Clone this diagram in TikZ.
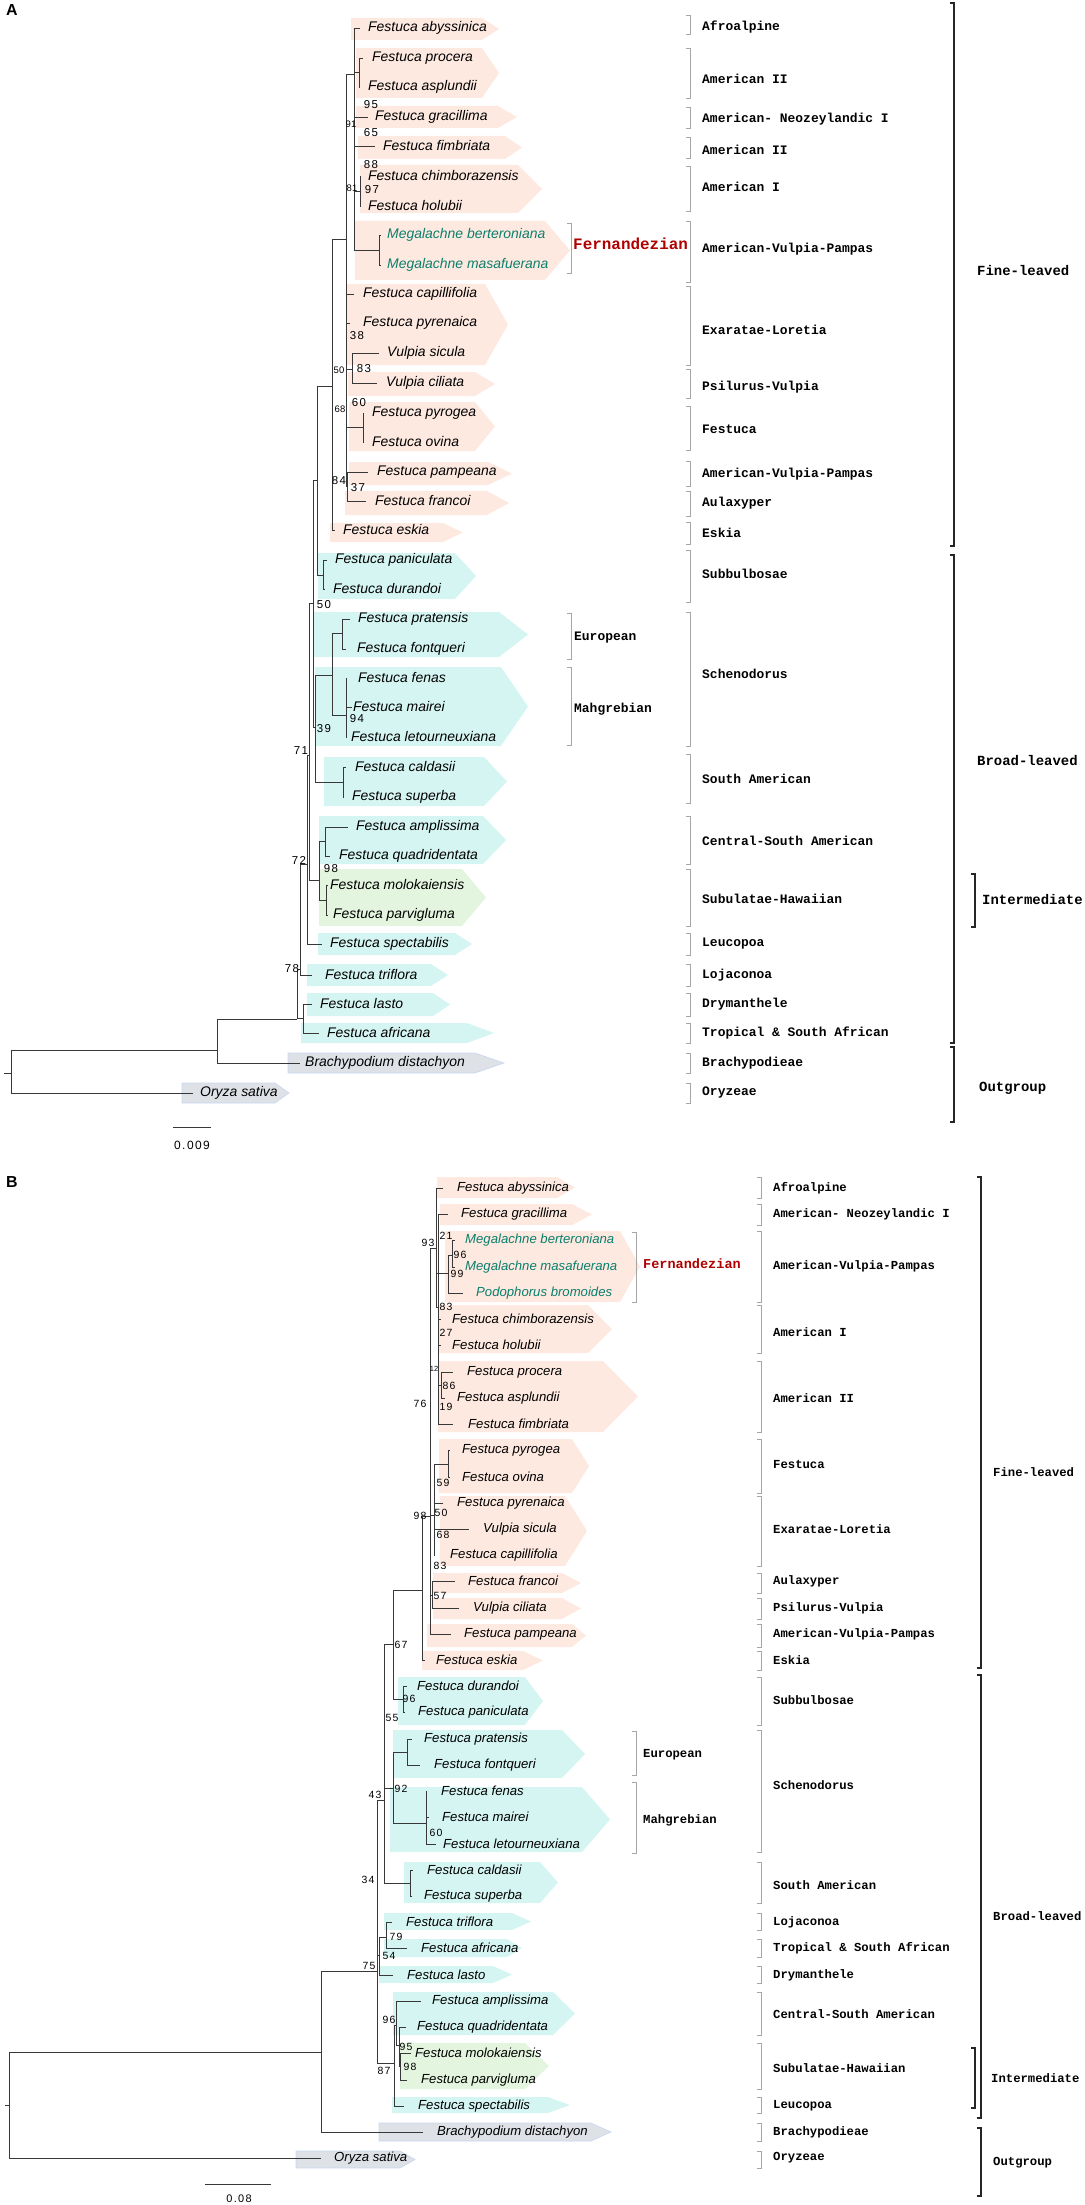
\documentclass[tikz,border=0pt]{standalone}
\usepackage{fontspec}
\setmainfont{Liberation Sans}
\newfontfamily\spfont{Liberation Sans}
\newfontfamily\lbfont{Liberation Mono}
\newfontfamily\bsfont[LetterSpace=12]{Liberation Sans}
\definecolor{peach}{HTML}{FDE9E0}
\definecolor{cyanb}{HTML}{D5F5F2}
\definecolor{greenb}{HTML}{E4F5DF}
\definecolor{greyb}{HTML}{DEE1E6}
\definecolor{greyedge}{HTML}{C8D6F2}
\definecolor{megal}{HTML}{0B7F6C}
\definecolor{fernred}{HTML}{B00000}
\tikzset{
  br/.style={draw=black!78, line width=0.9bp},
  spA/.style={anchor=west, inner sep=0pt, font={\spfont\itshape\fontsize{14}{16}\selectfont}},
  spB/.style={anchor=west, inner sep=0pt, font={\spfont\itshape\fontsize{13.2}{15}\selectfont}},
  bsA/.style={inner sep=0pt, font={\bsfont\fontsize{11.5}{13}\selectfont}},
  bsAs/.style={inner sep=0pt, font={\spfont\fontsize{9.5}{11}\selectfont}},
  bsB/.style={inner sep=0pt, font={\bsfont\fontsize{10.5}{12}\selectfont}},
  bsBs/.style={inner sep=0pt, font={\spfont\fontsize{7.5}{9}\selectfont}},
  labA/.style={anchor=west, inner sep=0pt, font={\lbfont\bfseries\fontsize{13}{15}\selectfont}},
  labB/.style={anchor=west, inner sep=0pt, font={\lbfont\bfseries\fontsize{12.3}{14}\selectfont}},
  bigA/.style={anchor=west, inner sep=0pt, font={\lbfont\bfseries\fontsize{14}{16}\selectfont}},
  bigB/.style={anchor=west, inner sep=0pt, font={\lbfont\bfseries\fontsize{12.3}{15}\selectfont}},
  fernA/.style={anchor=west, inner sep=0pt, text=fernred, font={\lbfont\bfseries\fontsize{16}{18}\selectfont}},
  fernB/.style={anchor=west, inner sep=0pt, text=fernred, font={\lbfont\bfseries\fontsize{13.6}{16}\selectfont}},
  sbr/.style={draw=black!35, line width=0.8bp},
  bbr/.style={draw=black!85, line width=1.3bp},
  outgrey/.style={fill=greyb, draw=greyedge, line width=0.6bp},
}
\newcommand\abox[6]{\path[#1] (#2,#3) -- (#5,#3) -- (#6,{(#3+#4)/2}) -- (#5,#4) -- (#2,#4) -- cycle;}
\newcommand\leafA[6][]{\coordinate (#2) at (#5,#4); \node[spA,#1] (#2t) at (#3,#4) {#6};}
\newcommand\leafB[6][]{\coordinate (#2) at (#5,#4); \node[spB,#1] (#2t) at (#3,#4) {#6};}
\newcommand\tn[3]{\coordinate (#1) at (#2,#3);}
\newcommand\edges[2]{\foreach \c in {#2} {\draw[br] (#1) |- (\c);}}
\newcommand\sbracket[5]{\coordinate (#1a) at ({#2-4},#3); \coordinate (#1b) at ({#2-4},#4); \draw[#5] (#1a) -- +(4,0) |- (#1b);}
\begin{document}
\begin{tikzpicture}[x=1bp,y=-1bp]
\useasboundingbox (0,0) rectangle (1084,2205);
\node[anchor=north west, inner sep=0pt, font={\bfseries\fontsize{16}{18}\selectfont}] (PA) at (6,4) {A};
\node[anchor=north west, inner sep=0pt, font={\bfseries\fontsize{16}{18}\selectfont}] (PB) at (6,1176) {B};

% ================= PANEL A boxes =================
\abox{fill=peach}{351}{18}{40}{482}{499}
\abox{fill=peach}{356}{48}{98}{482}{499}
\abox{fill=peach}{356}{106}{128}{498}{517}
\abox{fill=peach}{358}{136}{159}{505}{522}
\abox{fill=peach}{360}{165}{213}{518}{542}
\abox{fill=peach}{355}{221}{280}{545}{570}
\abox{fill=peach}{347}{284}{365}{485}{508}
\abox{fill=peach}{348}{372}{396}{475}{495}
\abox{fill=peach}{349}{402}{451}{475}{495}
\abox{fill=peach}{349}{462}{485}{488}{512}
\abox{fill=peach}{345}{491}{515}{487}{509}
\abox{fill=peach}{330}{523}{542}{443}{463}
\abox{fill=cyanb}{318}{553}{599}{455}{476}
\abox{fill=cyanb}{314}{612}{657}{499}{528}
\abox{fill=cyanb}{315}{667}{746}{501}{528}
\abox{fill=cyanb}{324}{757}{806}{484}{507}
\abox{fill=cyanb}{319}{816}{864}{483}{506}
\abox{fill=greenb}{319}{869}{926}{462}{486}
\abox{fill=cyanb}{318}{933}{955}{455}{472}
\abox{fill=cyanb}{307}{964}{986}{431}{448}
\abox{fill=cyanb}{307}{993}{1016}{433}{450}
\abox{fill=cyanb}{301}{1023}{1043}{467}{494}
\abox{outgrey}{288}{1053}{1073}{475}{504}
\abox{outgrey}{182}{1083}{1103}{275}{289}

% ================= PANEL A leaves =================
\leafA{a1}{368}{28}{360}{Festuca abyssinica}
\leafA{a2}{372}{58}{363}{Festuca procera}
\leafA{a3}{368}{87}{360}{Festuca asplundii}
\leafA{a4}{375}{117}{368}{Festuca gracillima}
\leafA{a5}{383}{146}{375}{Festuca fimbriata}
\leafA{a6}{368}{176}{361}{Festuca chimborazensis}
\leafA{a7}{368}{206}{361}{Festuca holubii}
\leafA[text=megal]{a8}{387}{235}{381}{Megalachne berteroniana}
\leafA[text=megal]{a9}{387}{265}{381}{Megalachne masafuerana}
\leafA{a10}{363}{294}{354}{Festuca capillifolia}
\leafA{a11}{363}{323}{350}{Festuca pyrenaica}
\leafA{a12}{387}{353}{379}{Vulpia sicula}
\leafA{a13}{386}{383}{377}{Vulpia ciliata}
\leafA{a14}{372}{413}{364}{Festuca pyrogea}
\leafA{a15}{372}{442}{364}{Festuca ovina}
\leafA{a16}{377}{472}{368}{Festuca pampeana}
\leafA{a17}{375}{501}{366}{Festuca francoi}
\leafA{a18}{343}{530}{335}{Festuca eskia}
\leafA{a19}{335}{560}{327}{Festuca paniculata}
\leafA{a20}{333}{589}{325}{Festuca durandoi}
\leafA{a21}{358}{619}{350}{Festuca pratensis}
\leafA{a22}{357}{649}{346}{Festuca fontqueri}
\leafA{a23}{358}{678}{347}{Festuca fenas}
\leafA{a24}{353}{707}{352}{Festuca mairei}
\leafA{a25}{351}{737}{347}{Festuca letourneuxiana}
\leafA{a26}{355}{767}{346}{Festuca caldasii}
\leafA{a27}{352}{797}{344}{Festuca superba}
\leafA{a28}{356}{827}{348}{Festuca amplissima}
\leafA{a29}{339}{856}{330}{Festuca quadridentata}
\leafA{a30}{330}{885}{328}{Festuca molokaiensis}
\leafA{a31}{333}{915}{328}{Festuca parvigluma}
\leafA{a32}{330}{944}{322}{Festuca spectabilis}
\leafA{a33}{325}{975}{312}{Festuca triflora}
\leafA{a34}{320}{1004}{312}{Festuca lasto}
\leafA{a35}{327}{1033}{319}{Festuca africana}
\leafA{a36}{305}{1063}{300}{Brachypodium distachyon}
\leafA{a37}{200}{1093}{193}{Oryza sativa}

% ================= PANEL A tree =================
\tn{A0s}{4}{1073}\tn{A0}{11}{1073}\tn{A1}{217}{1050}
\tn{AIng}{297}{1019}\tn{A78}{300}{969}\tn{ALA}{303}{1018}
\tn{A72}{307}{864}\tn{A71}{309}{755}\tn{A98}{319}{880}
\tn{Aaq}{325}{841}\tn{Ahaw}{326}{900}
\tn{A50}{313}{603}\tn{A317}{317}{480}\tn{ASub}{323}{575}
\tn{A39}{315}{727}\tn{ASch}{332}{675}\tn{AEur}{342}{633}\tn{AMah}{346}{715}\tn{ASAm}{343}{782}
\tn{A332}{332}{386}\tn{A346}{346}{239}\tn{A352}{352}{369}\tn{A349}{349}{427}\tn{A363}{363}{427}\tn{A347}{347}{486}
\tn{A354}{354}{74}\tn{A359}{359}{72}\tn{A360}{360}{191}\tn{AMeg}{379}{250}
\draw[br] (A0s) -- (A0);
\edges{A0}{A1,a37}
\edges{A1}{AIng,a36}
\edges{AIng}{A78,ALA}
\edges{A78}{A72,a33}
\edges{ALA}{a34,a35}
\edges{A72}{A71,a32}
\edges{A71}{A50,A98}
\edges{A98}{Aaq,Ahaw}
\edges{Aaq}{a28,a29}
\edges{Ahaw}{a30,a31}
\edges{A50}{A317,A39}
\edges{A317}{A332,ASub}
\edges{ASub}{a19,a20}
\edges{A39}{ASch,ASAm}
\edges{ASch}{AEur,AMah}
\edges{AEur}{a21,a22}
\edges{AMah}{a23,a24,a25}
\edges{ASAm}{a26,a27}
\edges{A332}{A346,a18}
\edges{A346}{A354,a10,a11,A352,A349,A347}
\edges{A352}{a12,a13}
\edges{A349}{A363}
\edges{A363}{a14,a15}
\edges{A347}{a16,a17}
\edges{A354}{a1,A359,a4,a5,A360,AMeg}
\edges{A359}{a2,a3}
\edges{A360}{a6,a7}
\edges{AMeg}{a8,a9}

% bootstrap A
\node[bsAs] (ba1) at (351,124) {91};
\node[bsA] (ba2) at (371,105) {95};
\node[bsA] (ba3) at (371,133) {65};
\node[bsA] (ba4) at (371,165) {88};
\node[bsAs] (ba5) at (352,188) {81};
\node[bsA] (ba6) at (372,190) {97};
\node[bsA] (ba7) at (357,336) {38};
\node[bsA] (ba8) at (364,369) {83};
\node[bsAs] (ba9) at (339,370) {50};
\node[bsA] (ba10) at (359,403) {60};
\node[bsAs] (ba11) at (340,409) {68};
\node[bsA] (ba12) at (339,481) {84};
\node[bsA] (ba13) at (358,488) {37};
\node[bsA] (ba14) at (324,605) {50};
\node[bsA] (ba15) at (357,719) {94};
\node[bsA] (ba16) at (324,729) {39};
\node[bsA] (ba17) at (301,751) {71};
\node[bsA] (ba18) at (299,860) {72};
\node[bsA] (ba19) at (331,869) {98};
\node[bsA] (ba20) at (292,969) {78};

% scale A
\coordinate (sa1) at (173,1127); \coordinate (sa2) at (211,1127);
\draw[br] (sa1) -- (sa2);
\node[inner sep=0pt, font={\bsfont\fontsize{12}{14}\selectfont}] (sat) at (192,1145) {0.009};

% label brackets A
\foreach \yt/\yb/\yl/\tx [count=\i] in {15/34/27/Afroalpine, 48/98/79/American II, 107/128/119/American- Neozeylandic I, 137/158/150/American II, 166/211/187/American I, 221/282/249/American-Vulpia-Pampas, 286/365/330/Exaratae-Loretia, 369/398/387/Psilurus-Vulpia, 406/450/429/Festuca, 461/486/474/American-Vulpia-Pampas, 491/516/503/Aulaxyper, 522/544/533/Eskia, 550/602/574/Subbulbosae, 612/746/674/Schenodorus, 754/803/779/South American, 816/864/841/Central-South American, 869/926/899/Subulatae-Hawaiian, 933/955/944/Leucopoa, 964/986/975/Lojaconoa, 993/1016/1004/Drymanthele, 1023/1043/1033/Tropical \& South African, 1053/1073/1063/Brachypodieae, 1083/1103/1093/Oryzeae} {
  \sbracket{lbA\i}{690}{\yt}{\yb}{sbr}
  \node[labA] (labA\i) at (702,\yl) {\tx};
}
\sbracket{fA}{571}{223}{273}{sbr}
\node[fernA] (fernAt) at (573,244) {Fernandezian};
\sbracket{eA}{571}{613}{659}{sbr}
\node[labA] (eurA) at (574,638) {European};
\sbracket{mA}{571}{667}{745}{sbr}
\node[labA] (mahA) at (574,709) {Mahgrebian};
\sbracket{FLA}{954}{3}{546}{bbr}
\node[bigA] (flA) at (977,271) {Fine-leaved};
\sbracket{BLA}{954}{555}{1043}{bbr}
\node[bigA] (blA) at (977,761) {Broad-leaved};
\sbracket{INA}{975}{874}{927}{bbr}
\node[bigA] (inA) at (982,900) {Intermediate};
\sbracket{OGA}{954}{1047}{1122}{bbr}
\node[bigA] (ogA) at (979,1088) {Outgroup};

% ================= PANEL B boxes =================
\abox{fill=peach}{437}{1177}{1198}{557}{575}
\abox{fill=peach}{440}{1204}{1225}{572}{592}
\abox{fill=peach}{445}{1231}{1302}{620}{640}
\abox{fill=peach}{438}{1305}{1353}{588}{612}
\abox{fill=peach}{438}{1361}{1432}{603}{638}
\abox{fill=peach}{439}{1439}{1493}{572}{589}
\abox{fill=peach}{440}{1496}{1566}{565}{587}
\abox{fill=peach}{433}{1573}{1593}{562}{581}
\abox{fill=peach}{433}{1598}{1619}{562}{581}
\abox{fill=peach}{427}{1624}{1647}{572}{586}
\abox{fill=peach}{422}{1651}{1670}{523}{543}
\abox{fill=cyanb}{398}{1677}{1725}{525}{543}
\abox{fill=cyanb}{393}{1730}{1778}{562}{585}
\abox{fill=cyanb}{390}{1787}{1852}{582}{610}
\abox{fill=cyanb}{404}{1862}{1903}{540}{558}
\abox{fill=cyanb}{384}{1913}{1930}{512}{531}
\abox{fill=cyanb}{384}{1939}{1957}{507}{522}
\abox{fill=cyanb}{379}{1966}{1983}{493}{512}
\abox{fill=cyanb}{393}{1992}{2035}{553}{575}
\abox{fill=greenb}{400}{2043}{2089}{525}{549}
\abox{fill=cyanb}{392}{2097}{2113}{548}{570}
\abox{outgrey}{379}{2123}{2141}{591}{611}
\abox{outgrey}{296}{2151}{2168}{400}{415}

% ================= PANEL B leaves =================
\leafB{b1}{457}{1188}{443}{Festuca abyssinica}
\leafB{b2}{461}{1214}{448}{Festuca gracillima}
\leafB[text=megal]{b3}{465}{1240}{455}{Megalachne berteroniana}
\leafB[text=megal]{b4}{465}{1267}{455}{Megalachne masafuerana}
\leafB[text=megal]{b5}{476}{1293}{463}{Podophorus bromoides}
\leafB{b6}{452}{1319}{441}{Festuca chimborazensis}
\leafB{b7}{452}{1345}{441}{Festuca holubii}
\leafB{b8}{467}{1372}{453}{Festuca procera}
\leafB{b9}{457}{1398}{445}{Festuca asplundii}
\leafB{b10}{468}{1424}{453}{Festuca fimbriata}
\leafB{b11}{462}{1450}{450}{Festuca pyrogea}
\leafB{b12}{462}{1477}{450}{Festuca ovina}
\leafB{b13}{457}{1503}{443}{Festuca pyrenaica}
\leafB{b14}{483}{1529}{469}{Vulpia sicula}
\leafB{b15}{450}{1555}{435}{Festuca capillifolia}
\leafB{b16}{468}{1581}{455}{Festuca francoi}
\leafB{b17}{473}{1608}{459}{Vulpia ciliata}
\leafB{b18}{464}{1634}{451}{Festuca pampeana}
\leafB{b19}{436}{1660}{425}{Festuca eskia}
\leafB{b20}{417}{1686}{407}{Festuca durandoi}
\leafB{b21}{418}{1712}{405}{Festuca paniculata}
\leafB{b22}{424}{1739}{412}{Festuca pratensis}
\leafB{b23}{434}{1765}{420}{Festuca fontqueri}
\leafB{b24}{441}{1791}{427}{Festuca fenas}
\leafB{b25}{442}{1817}{429}{Festuca mairei}
\leafB{b26}{443}{1844}{436}{Festuca letourneuxiana}
\leafB{b27}{427}{1870}{413}{Festuca caldasii}
\leafB{b28}{424}{1896}{412}{Festuca superba}
\leafB{b29}{406}{1922}{392}{Festuca triflora}
\leafB{b30}{421}{1948}{407}{Festuca africana}
\leafB{b31}{407}{1975}{393}{Festuca lasto}
\leafB{b32}{432}{2001}{421}{Festuca amplissima}
\leafB{b33}{417}{2027}{406}{Festuca quadridentata}
\leafB{b34}{415}{2053}{411}{Festuca molokaiensis}
\leafB{b35}{421}{2080}{407}{Festuca parvigluma}
\leafB{b36}{418}{2106}{404}{Festuca spectabilis}
\leafB{b37}{437}{2132}{423}{Brachypodium distachyon}
\leafB{b38}{334}{2158}{321}{Oryza sativa}

% ================= PANEL B tree =================
\tn{B0s}{5}{2105}\tn{B0}{9}{2105}\tn{B1}{321}{2052}
\tn{BIng}{377}{1971}\tn{B43}{384}{1800}\tn{B67}{393}{1644}\tn{BSub}{403}{1699}
\tn{B92}{393}{1788}\tn{BEur}{407}{1752}\tn{BMah}{426}{1823}\tn{BSAm}{410}{1883}
\tn{B54}{379}{1955}\tn{B79}{386}{1937}\tn{B87}{394}{2063}\tn{B96}{396}{2025}\tn{B95}{399}{2045}\tn{Bhaw}{400}{2066}
\tn{B422}{422}{1590}\tn{B98}{430}{1516}\tn{B93}{436}{1248}\tn{B448}{448}{1273}\tn{B452}{452}{1255}
\tn{B438}{438}{1307}\tn{B441}{441}{1385}\tn{B434}{434}{1515}\tn{B448o}{448}{1464}\tn{B432}{432}{1595}
\draw[br] (B0s) -- (B0);
\edges{B0}{B1,b38}
\edges{B1}{BIng,b37}
\edges{BIng}{B43,B54,B87}
\edges{B43}{B67,B92,BSAm}
\edges{B67}{B422,BSub}
\edges{BSub}{b20,b21}
\edges{B92}{BEur,BMah}
\edges{BEur}{b22,b23}
\edges{BMah}{b24,b25,b26}
\edges{BSAm}{b27,b28}
\edges{B54}{B79,b31}
\edges{B79}{b29,b30}
\edges{B87}{B96,b36}
\edges{B96}{b32,B95}
\edges{B95}{b33,Bhaw}
\edges{Bhaw}{b34,b35}
\edges{B422}{B98,b19}
\edges{B98}{B93,B434,B432,b18}
\edges{B93}{b1,B448,B438}
\edges{B448}{B452,b5}
\edges{B452}{b3,b4}
\edges{B438}{b2,b6,b7,B441,b10}
\edges{B441}{b8,b9}
\edges{B434}{B448o,b13,b14,b15}
\edges{B448o}{b11,b12}
\edges{B432}{b16,b17}

% bootstrap B
\foreach \bx/\by/\bt [count=\i] in {428/1243/93, 446/1236/21, 460/1255/96, 457/1274/99, 446/1307/83, 446/1333/27, 449/1386/86, 446/1407/19, 420/1404/76, 443/1483/59, 441/1513/50, 443/1535/68, 440/1566/83, 420/1516/98, 440/1596/57, 401/1645/67, 409/1699/96, 392/1718/55, 401/1789/92, 436/1833/60, 375/1795/43, 368/1880/34, 396/1937/79, 389/1956/54, 369/1966/75, 389/2020/96, 406/2047/95, 410/2067/98, 384/2071/87} {
  \node[bsB] (bb\i) at (\bx,\by) {\bt};
}
\node[bsBs] (bbs) at (434,1369) {12};

% scale B
\coordinate (sb1) at (205,2184); \coordinate (sb2) at (271,2184);
\draw[br] (sb1) -- (sb2);
\node[inner sep=0pt, font={\bsfont\fontsize{11}{13}\selectfont}] (sbt) at (239,2199) {0.08};

% label brackets B
\foreach \yt/\yb/\yl/\tx [count=\i] in {1177/1198/1188/Afroalpine, 1204/1225/1214/American- Neozeylandic I, 1231/1302/1266/American-Vulpia-Pampas, 1305/1353/1332/American I, 1361/1432/1398/American II, 1439/1493/1464/Festuca, 1496/1566/1529/Exaratae-Loretia, 1573/1593/1581/Aulaxyper, 1598/1619/1608/Psilurus-Vulpia, 1624/1647/1634/American-Vulpia-Pampas, 1651/1670/1660/Eskia, 1677/1725/1700/Subbulbosae, 1730/1852/1785/Schenodorus, 1862/1903/1885/South American, 1913/1930/1922/Lojaconoa, 1939/1957/1948/Tropical \& South African, 1966/1983/1975/Drymanthele, 1992/2035/2014/Central-South American, 2043/2089/2068/Subulatae-Hawaiian, 2097/2113/2106/Leucopoa, 2123/2141/2132/Brachypodieae, 2151/2168/2158/Oryzeae} {
  \sbracket{lbB\i}{761}{\yt}{\yb}{sbr}
  \node[labB] (labB\i) at (773,\yl) {\tx};
}
\sbracket{fB}{636}{1232}{1302}{sbr}
\node[fernB] (fernBt) at (643,1264) {Fernandezian};
\sbracket{eB}{636}{1731}{1775}{sbr}
\node[labB] (eurB) at (643,1755) {European};
\sbracket{mB}{636}{1782}{1853}{sbr}
\node[labB] (mahB) at (643,1820) {Mahgrebian};
\sbracket{FLB}{981}{1177}{1668}{bbr}
\node[bigB] (flB) at (993,1472) {Fine-leaved};
\sbracket{BLB}{981}{1675}{2118}{bbr}
\node[bigB] (blB) at (993,1916) {Broad-leaved};
\sbracket{INB}{975}{2048}{2108}{bbr}
\node[bigB] (inB) at (991,2078) {Intermediate};
\sbracket{OGB}{981}{2128}{2196}{bbr}
\node[bigB] (ogB) at (993,2163) {Outgroup};
\end{tikzpicture}
\end{document}
